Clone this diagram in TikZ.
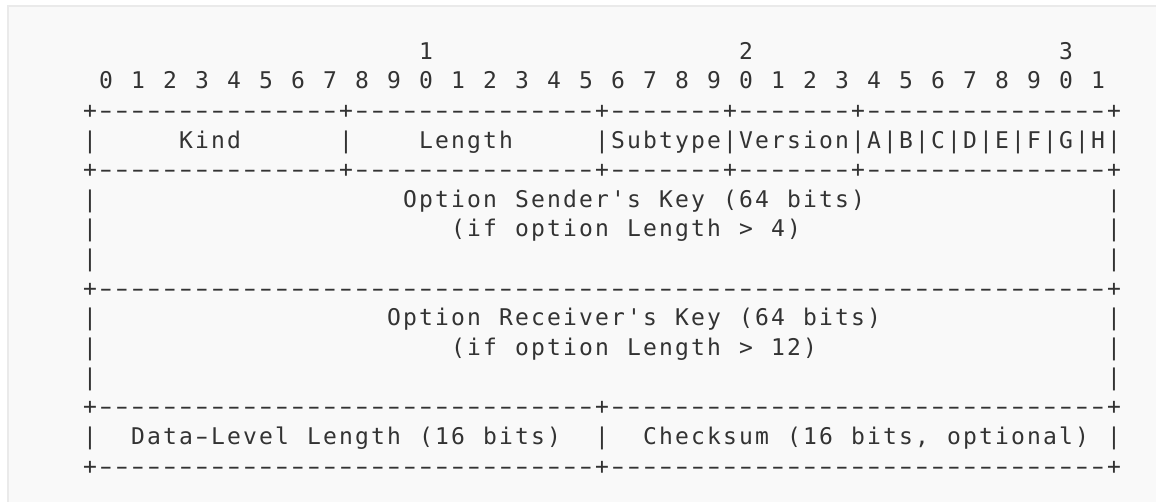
\documentclass[tikz,border=0pt]{standalone}
\usepackage{graphicx}
\usepackage{fontspec}
\setmonofont{DejaVu Sans Mono}
\definecolor{bgcol}{HTML}{F9F9F9}
\definecolor{edgecol}{HTML}{EAEAEA}
\definecolor{inkcol}{HTML}{333333}
\newlength\cellw \setlength\cellw{16pt}
\newcount\dcnt
\def\rowend{ROWEND}
\def\blanks{BLANKS}
\def\dashes{DASHES}
\newcommand\longdash{\scalebox{1.6}[1]{-}}
\def\rowloop#1{%
  \ifx#1\rowend \let\rownext\relax
  \else\ifx#1\blanks \let\rownext\rowblank
  \else\ifx#1\dashes \let\rownext\rowdash
  \else\ifx#1~\hspace*{\cellw}\let\rownext\rowloop
  \else\ifx#1-\makebox[\cellw][c]{\longdash}\let\rownext\rowloop
  \else\makebox[\cellw][c]{#1}\let\rownext\rowloop
  \fi\fi\fi\fi\fi\rownext}
\def\rowblank#1{\hspace*{#1\cellw}\rowloop}
\def\rowdash#1{\dcnt=#1\relax\rowdashloop\rowloop}
\def\rowdashloop{\ifnum\dcnt>0 \makebox[\cellw][c]{\longdash}\advance\dcnt-1 \expandafter\rowdashloop\fi}
\newcommand\asciirow[1]{\rowloop#1\rowend}
\tikzset{asciiline/.style={anchor=base west, inner sep=0pt, outer sep=0pt,
  font=\ttfamily\fontsize{23}{27}\selectfont, text=inkcol}}
\begin{document}
\begin{tikzpicture}[x=1pt,y=-1pt]
\useasboundingbox (0,0) rectangle (1156,501);
\fill[bgcol] (8,6) rectangle (1170,515);
\draw[edgecol, line width=1.2pt] (8,515) -- (8,6) -- (1170,6);
\node[asciiline] (r1) at (82,59.05) {\asciirow{\blanks{21}1\blanks{19}2\blanks{19}3}};
\node[asciiline] (r2) at (82,88.7) {\asciirow{~0~1~2~3~4~5~6~7~8~9~0~1~2~3~4~5~6~7~8~9~0~1~2~3~4~5~6~7~8~9~0~1}};
\node[asciiline] (r3) at (82,118.35) {\asciirow{+\dashes{15}+\dashes{15}+\dashes7+\dashes7+\dashes{15}+}};
\node[asciiline] (r4) at (82,148) {\asciirow{|\blanks5Kind\blanks6|\blanks4Length\blanks5|Subtype|Version|A|B|C|D|E|F|G|H|}};
\node[asciiline] (r5) at (82,177.65) {\asciirow{+\dashes{15}+\dashes{15}+\dashes7+\dashes7+\dashes{15}+}};
\node[asciiline] (r6) at (82,207.3) {\asciirow{|\blanks{19}Option~Sender's~Key~(64~bits)\blanks{15}|}};
\node[asciiline] (r7) at (82,236.95) {\asciirow{|\blanks{22}(if~option~Length~>~4)\blanks{19}|}};
\node[asciiline] (r8) at (82,266.6) {\asciirow{|\blanks{63}|}};
\node[asciiline] (r9) at (82,296.25) {\asciirow{+\dashes{63}+}};
\node[asciiline] (r10) at (82,325.9) {\asciirow{|\blanks{18}Option~Receiver's~Key~(64~bits)\blanks{14}|}};
\node[asciiline] (r11) at (82,355.55) {\asciirow{|\blanks{22}(if~option~Length~>~12)\blanks{18}|}};
\node[asciiline] (r12) at (82,385.2) {\asciirow{|\blanks{63}|}};
\node[asciiline] (r13) at (82,414.85) {\asciirow{+\dashes{31}+\dashes{31}+}};
\node[asciiline] (r14) at (82,444.5) {\asciirow{|\blanks2Data-Level~Length~(16~bits)\blanks2|\blanks2Checksum~(16~bits,~optional)~|}};
\node[asciiline] (r15) at (82,474.15) {\asciirow{+\dashes{31}+\dashes{31}+}};
\end{tikzpicture}
\end{document}
